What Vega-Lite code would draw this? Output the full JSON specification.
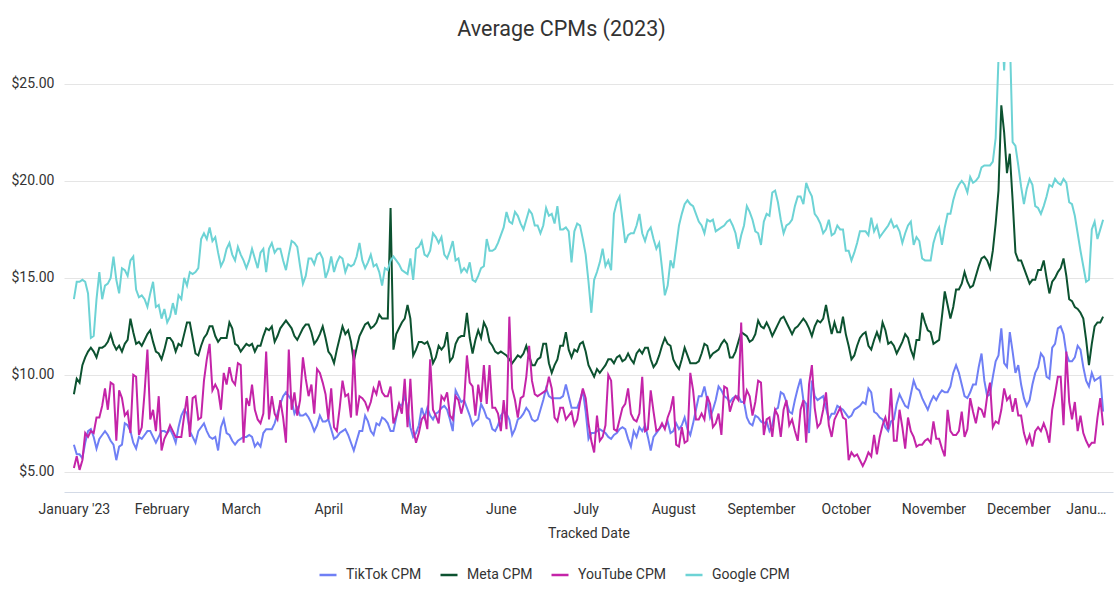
{
"$schema":"https://vega.github.io/schema/vega-lite/v6.json",
"width":1049,"height":430,
"autosize":{"type":"none"},
"padding":{"left":64,"top":62,"right":7,"bottom":113},
"background":"white",
"config":{"font":"Roboto","view":{"stroke":null}},
"title":{"text":"Average CPMs (2023)","fontSize":21.5,"font":"Roboto","fontWeight":"normal","color":"#333333","anchor":"middle","dx":-27,"offset":22},
"data":{"values":[
{"d":"2023-01-01","t":6.4,"m":9.0,"y":5.2,"g":13.9},
{"d":"2023-01-02","t":5.9,"m":9.8,"y":5.8,"g":14.8},
{"d":"2023-01-03","t":5.9,"m":9.6,"y":5.1,"g":14.8},
{"d":"2023-01-04","t":5.7,"m":10.5,"y":5.6,"g":14.9},
{"d":"2023-01-05","t":6.5,"m":10.9,"y":7.0,"g":14.8},
{"d":"2023-01-06","t":7.1,"m":11.2,"y":6.8,"g":14.2},
{"d":"2023-01-07","t":7.2,"m":11.4,"y":7.1,"g":11.9},
{"d":"2023-01-08","t":6.8,"m":11.2,"y":7.0,"g":12.0},
{"d":"2023-01-09","t":6.2,"m":10.9,"y":7.8,"g":13.9},
{"d":"2023-01-10","t":6.7,"m":11.4,"y":7.8,"g":15.3},
{"d":"2023-01-11","t":6.9,"m":11.4,"y":8.4,"g":13.9},
{"d":"2023-01-12","t":7.1,"m":11.5,"y":9.3,"g":14.6},
{"d":"2023-01-13","t":6.9,"m":11.7,"y":8.2,"g":14.7},
{"d":"2023-01-14","t":6.6,"m":12.1,"y":9.6,"g":15.0},
{"d":"2023-01-15","t":6.4,"m":11.6,"y":9.5,"g":16.1},
{"d":"2023-01-16","t":5.6,"m":11.3,"y":6.6,"g":14.9},
{"d":"2023-01-17","t":6.3,"m":11.5,"y":9.2,"g":14.2},
{"d":"2023-01-18","t":6.4,"m":11.2,"y":8.8,"g":15.5},
{"d":"2023-01-19","t":7.5,"m":11.6,"y":7.9,"g":15.4},
{"d":"2023-01-20","t":7.4,"m":11.8,"y":8.1,"g":15.1},
{"d":"2023-01-21","t":7.1,"m":12.9,"y":7.0,"g":15.9},
{"d":"2023-01-22","t":6.5,"m":12.2,"y":10.0,"g":16.1},
{"d":"2023-01-23","t":6.2,"m":11.6,"y":9.9,"g":14.4},
{"d":"2023-01-24","t":6.8,"m":11.7,"y":6.9,"g":14.0},
{"d":"2023-01-25","t":6.7,"m":11.5,"y":7.3,"g":14.1},
{"d":"2023-01-26","t":6.9,"m":11.8,"y":9.1,"g":13.9},
{"d":"2023-01-27","t":7.1,"m":12.1,"y":11.3,"g":13.5},
{"d":"2023-01-28","t":7.1,"m":12.3,"y":7.7,"g":14.2},
{"d":"2023-01-29","t":6.8,"m":11.7,"y":8.2,"g":14.8},
{"d":"2023-01-30","t":6.5,"m":11.2,"y":7.1,"g":13.5},
{"d":"2023-01-31","t":6.8,"m":11.1,"y":8.9,"g":13.6},
{"d":"2023-02-01","t":7.1,"m":10.8,"y":6.1,"g":12.9},
{"d":"2023-02-02","t":7.1,"m":11.3,"y":6.7,"g":13.4},
{"d":"2023-02-03","t":7.0,"m":11.9,"y":7.0,"g":12.7},
{"d":"2023-02-04","t":7.2,"m":11.9,"y":7.4,"g":13.0},
{"d":"2023-02-05","t":6.9,"m":11.7,"y":7.1,"g":13.7},
{"d":"2023-02-06","t":6.5,"m":11.2,"y":6.8,"g":13.1},
{"d":"2023-02-07","t":7.3,"m":11.6,"y":6.8,"g":14.1},
{"d":"2023-02-08","t":7.9,"m":11.5,"y":6.8,"g":13.9},
{"d":"2023-02-09","t":8.2,"m":12.1,"y":7.9,"g":15.0},
{"d":"2023-02-10","t":8.0,"m":12.7,"y":8.9,"g":14.6},
{"d":"2023-02-11","t":7.1,"m":12.7,"y":6.8,"g":15.3},
{"d":"2023-02-12","t":6.8,"m":11.9,"y":8.8,"g":15.2},
{"d":"2023-02-13","t":6.5,"m":11.1,"y":8.9,"g":15.3},
{"d":"2023-02-14","t":7.1,"m":11.0,"y":7.7,"g":15.5},
{"d":"2023-02-15","t":7.3,"m":11.5,"y":7.8,"g":17.0},
{"d":"2023-02-16","t":7.5,"m":11.9,"y":9.7,"g":17.3},
{"d":"2023-02-17","t":7.1,"m":12.1,"y":10.8,"g":17.0},
{"d":"2023-02-18","t":6.8,"m":12.5,"y":11.6,"g":17.6},
{"d":"2023-02-19","t":6.7,"m":12.5,"y":9.2,"g":16.9},
{"d":"2023-02-20","t":6.8,"m":12.0,"y":9.5,"g":17.1},
{"d":"2023-02-21","t":6.1,"m":11.7,"y":9.2,"g":16.3},
{"d":"2023-02-22","t":7.3,"m":11.9,"y":8.2,"g":15.6},
{"d":"2023-02-23","t":7.7,"m":11.9,"y":10.1,"g":15.9},
{"d":"2023-02-24","t":7.0,"m":11.9,"y":9.5,"g":16.5},
{"d":"2023-02-25","t":6.9,"m":12.7,"y":10.4,"g":16.8},
{"d":"2023-02-26","t":6.6,"m":12.4,"y":9.7,"g":16.2},
{"d":"2023-02-27","t":6.4,"m":11.6,"y":9.5,"g":15.9},
{"d":"2023-02-28","t":6.6,"m":11.5,"y":10.6,"g":16.6},
{"d":"2023-03-01","t":6.7,"m":11.2,"y":10.5,"g":16.2},
{"d":"2023-03-02","t":6.8,"m":11.4,"y":6.5,"g":15.9},
{"d":"2023-03-03","t":6.8,"m":11.6,"y":8.8,"g":15.5},
{"d":"2023-03-04","t":6.9,"m":11.5,"y":8.4,"g":15.9},
{"d":"2023-03-05","t":6.8,"m":11.6,"y":9.5,"g":16.5},
{"d":"2023-03-06","t":6.3,"m":11.2,"y":8.2,"g":16.0},
{"d":"2023-03-07","t":6.5,"m":11.5,"y":7.7,"g":15.5},
{"d":"2023-03-08","t":6.3,"m":11.5,"y":7.5,"g":16.3},
{"d":"2023-03-09","t":7.0,"m":12.0,"y":8.0,"g":16.5},
{"d":"2023-03-10","t":7.2,"m":12.4,"y":11.2,"g":15.3},
{"d":"2023-03-11","t":7.2,"m":12.3,"y":7.7,"g":16.5},
{"d":"2023-03-12","t":7.2,"m":12.5,"y":8.9,"g":16.8},
{"d":"2023-03-13","t":7.5,"m":11.7,"y":8.0,"g":16.3},
{"d":"2023-03-14","t":8.0,"m":12.0,"y":7.7,"g":16.5},
{"d":"2023-03-15","t":8.5,"m":12.4,"y":8.7,"g":16.5},
{"d":"2023-03-16","t":8.9,"m":12.6,"y":7.8,"g":15.9},
{"d":"2023-03-17","t":9.1,"m":12.8,"y":6.5,"g":15.4},
{"d":"2023-03-18","t":8.9,"m":12.6,"y":11.3,"g":16.2},
{"d":"2023-03-19","t":8.7,"m":12.4,"y":8.2,"g":16.9},
{"d":"2023-03-20","t":8.0,"m":12.0,"y":9.1,"g":16.8},
{"d":"2023-03-21","t":8.3,"m":11.8,"y":7.9,"g":16.6},
{"d":"2023-03-22","t":7.9,"m":12.1,"y":8.7,"g":15.6},
{"d":"2023-03-23","t":7.9,"m":12.4,"y":10.9,"g":14.7},
{"d":"2023-03-24","t":8.0,"m":12.6,"y":9.8,"g":15.1},
{"d":"2023-03-25","t":7.8,"m":12.6,"y":8.9,"g":16.0},
{"d":"2023-03-26","t":7.5,"m":12.2,"y":9.5,"g":16.0},
{"d":"2023-03-27","t":7.1,"m":11.6,"y":8.0,"g":15.7},
{"d":"2023-03-28","t":7.4,"m":11.8,"y":10.3,"g":16.2},
{"d":"2023-03-29","t":7.9,"m":12.1,"y":10.1,"g":16.3},
{"d":"2023-03-30","t":7.6,"m":12.5,"y":9.6,"g":16.0},
{"d":"2023-03-31","t":7.6,"m":11.9,"y":9.0,"g":15.0},
{"d":"2023-04-01","t":7.7,"m":11.2,"y":7.7,"g":15.4},
{"d":"2023-04-02","t":7.2,"m":11.0,"y":9.3,"g":16.1},
{"d":"2023-04-03","t":6.7,"m":10.6,"y":7.3,"g":15.3},
{"d":"2023-04-04","t":6.8,"m":11.3,"y":7.1,"g":15.8},
{"d":"2023-04-05","t":7.0,"m":11.9,"y":8.3,"g":16.1},
{"d":"2023-04-06","t":7.1,"m":12.5,"y":9.7,"g":16.0},
{"d":"2023-04-07","t":7.2,"m":12.1,"y":8.9,"g":15.3},
{"d":"2023-04-08","t":6.9,"m":12.3,"y":9.0,"g":15.7},
{"d":"2023-04-09","t":6.5,"m":11.7,"y":7.8,"g":15.6},
{"d":"2023-04-10","t":6.1,"m":10.7,"y":11.3,"g":15.7},
{"d":"2023-04-11","t":6.6,"m":11.4,"y":7.9,"g":16.1},
{"d":"2023-04-12","t":7.1,"m":12.0,"y":8.9,"g":16.8},
{"d":"2023-04-13","t":7.1,"m":12.3,"y":8.8,"g":15.9},
{"d":"2023-04-14","t":7.9,"m":12.6,"y":8.6,"g":15.5},
{"d":"2023-04-15","t":7.6,"m":12.7,"y":8.2,"g":15.8},
{"d":"2023-04-16","t":7.1,"m":12.4,"y":8.6,"g":16.2},
{"d":"2023-04-17","t":6.9,"m":12.5,"y":9.3,"g":15.6},
{"d":"2023-04-18","t":7.5,"m":12.7,"y":9.0,"g":15.7},
{"d":"2023-04-19","t":7.4,"m":13.1,"y":9.7,"g":15.3},
{"d":"2023-04-20","t":7.8,"m":12.9,"y":9.1,"g":14.6},
{"d":"2023-04-21","t":7.7,"m":12.9,"y":8.9,"g":15.5},
{"d":"2023-04-22","t":7.5,"m":12.9,"y":8.9,"g":15.4},
{"d":"2023-04-23","t":7.1,"m":18.6,"y":9.4,"g":15.9},
{"d":"2023-04-24","t":7.1,"m":11.3,"y":7.5,"g":16.1},
{"d":"2023-04-25","t":7.8,"m":12.1,"y":7.9,"g":15.9},
{"d":"2023-04-26","t":8.5,"m":12.4,"y":8.5,"g":15.7},
{"d":"2023-04-27","t":8.4,"m":12.7,"y":8.0,"g":15.4},
{"d":"2023-04-28","t":8.9,"m":12.9,"y":9.8,"g":15.3},
{"d":"2023-04-29","t":8.3,"m":13.6,"y":7.3,"g":15.2},
{"d":"2023-04-30","t":7.3,"m":12.9,"y":9.8,"g":16.0},
{"d":"2023-05-01","t":6.8,"m":11.0,"y":7.2,"g":14.9},
{"d":"2023-05-02","t":7.0,"m":11.3,"y":6.5,"g":16.5},
{"d":"2023-05-03","t":7.4,"m":11.7,"y":7.0,"g":16.6},
{"d":"2023-05-04","t":8.3,"m":11.7,"y":7.7,"g":16.9},
{"d":"2023-05-05","t":7.8,"m":11.6,"y":7.9,"g":16.2},
{"d":"2023-05-06","t":8.3,"m":11.7,"y":7.2,"g":16.1},
{"d":"2023-05-07","t":7.9,"m":11.3,"y":10.8,"g":16.4},
{"d":"2023-05-08","t":7.7,"m":10.6,"y":8.2,"g":17.3},
{"d":"2023-05-09","t":8.0,"m":10.9,"y":7.9,"g":17.1},
{"d":"2023-05-10","t":8.1,"m":11.5,"y":7.5,"g":16.8},
{"d":"2023-05-11","t":8.3,"m":11.3,"y":8.9,"g":17.1},
{"d":"2023-05-12","t":8.4,"m":11.5,"y":8.7,"g":16.2},
{"d":"2023-05-13","t":8.2,"m":12.2,"y":9.1,"g":16.0},
{"d":"2023-05-14","t":7.7,"m":10.7,"y":7.9,"g":16.4},
{"d":"2023-05-15","t":7.1,"m":10.9,"y":7.7,"g":16.9},
{"d":"2023-05-16","t":9.2,"m":11.6,"y":8.9,"g":15.9},
{"d":"2023-05-17","t":8.9,"m":11.9,"y":8.7,"g":16.0},
{"d":"2023-05-18","t":8.6,"m":12.0,"y":8.0,"g":15.3},
{"d":"2023-05-19","t":8.7,"m":12.0,"y":8.6,"g":15.5},
{"d":"2023-05-20","t":8.3,"m":13.2,"y":11.0,"g":15.3},
{"d":"2023-05-21","t":7.9,"m":11.9,"y":9.6,"g":15.8},
{"d":"2023-05-22","t":7.4,"m":11.1,"y":9.4,"g":14.9},
{"d":"2023-05-23","t":7.6,"m":11.8,"y":7.9,"g":14.8},
{"d":"2023-05-24","t":7.7,"m":12.3,"y":9.5,"g":15.1},
{"d":"2023-05-25","t":8.5,"m":11.9,"y":8.6,"g":15.5},
{"d":"2023-05-26","t":8.2,"m":12.7,"y":10.5,"g":15.6},
{"d":"2023-05-27","t":7.8,"m":12.4,"y":8.5,"g":17.0},
{"d":"2023-05-28","t":7.7,"m":11.7,"y":10.5,"g":16.4},
{"d":"2023-05-29","t":7.2,"m":11.5,"y":8.3,"g":16.4},
{"d":"2023-05-30","t":7.1,"m":11.2,"y":8.3,"g":16.5},
{"d":"2023-05-31","t":7.4,"m":11.1,"y":8.0,"g":16.8},
{"d":"2023-06-01","t":7.9,"m":11.2,"y":7.1,"g":17.2},
{"d":"2023-06-02","t":8.1,"m":11.1,"y":8.7,"g":17.6},
{"d":"2023-06-03","t":8.0,"m":11.0,"y":7.2,"g":18.4},
{"d":"2023-06-04","t":7.7,"m":10.8,"y":13.0,"g":17.9},
{"d":"2023-06-05","t":6.9,"m":10.6,"y":9.3,"g":17.8},
{"d":"2023-06-06","t":7.2,"m":10.8,"y":8.7,"g":18.4},
{"d":"2023-06-07","t":7.7,"m":11.0,"y":7.8,"g":18.2},
{"d":"2023-06-08","t":7.8,"m":10.9,"y":8.8,"g":17.8},
{"d":"2023-06-09","t":8.0,"m":11.1,"y":8.9,"g":17.5},
{"d":"2023-06-10","t":8.3,"m":11.5,"y":9.9,"g":18.0},
{"d":"2023-06-11","t":8.1,"m":11.0,"y":11.5,"g":18.5},
{"d":"2023-06-12","t":7.7,"m":10.5,"y":9.7,"g":18.3},
{"d":"2023-06-13","t":7.6,"m":10.5,"y":9.0,"g":17.7},
{"d":"2023-06-14","t":7.7,"m":10.8,"y":8.9,"g":17.7},
{"d":"2023-06-15","t":8.2,"m":10.9,"y":9.0,"g":17.3},
{"d":"2023-06-16","t":8.7,"m":11.6,"y":9.1,"g":17.7},
{"d":"2023-06-17","t":9.3,"m":11.6,"y":9.2,"g":18.6},
{"d":"2023-06-18","t":8.9,"m":10.6,"y":9.9,"g":18.2},
{"d":"2023-06-19","t":8.8,"m":10.1,"y":9.3,"g":18.3},
{"d":"2023-06-20","t":8.8,"m":10.5,"y":7.8,"g":17.8},
{"d":"2023-06-21","t":8.8,"m":10.8,"y":7.6,"g":18.7},
{"d":"2023-06-22","t":8.8,"m":11.5,"y":8.3,"g":17.5},
{"d":"2023-06-23","t":8.9,"m":11.5,"y":8.3,"g":17.5},
{"d":"2023-06-24","t":9.5,"m":12.2,"y":7.7,"g":17.6},
{"d":"2023-06-25","t":8.9,"m":11.3,"y":7.9,"g":17.4},
{"d":"2023-06-26","t":8.3,"m":10.9,"y":8.1,"g":15.8},
{"d":"2023-06-27","t":8.3,"m":11.3,"y":7.4,"g":17.4},
{"d":"2023-06-28","t":8.3,"m":11.2,"y":7.7,"g":17.8},
{"d":"2023-06-29","t":8.7,"m":11.6,"y":8.6,"g":17.7},
{"d":"2023-06-30","t":9.2,"m":11.7,"y":9.3,"g":17.0},
{"d":"2023-07-01","t":8.1,"m":11.2,"y":8.8,"g":16.2},
{"d":"2023-07-02","t":6.7,"m":10.5,"y":7.5,"g":14.8},
{"d":"2023-07-03","t":7.0,"m":10.2,"y":6.6,"g":13.2},
{"d":"2023-07-04","t":7.0,"m":9.9,"y":6.0,"g":14.9},
{"d":"2023-07-05","t":7.1,"m":10.3,"y":7.9,"g":15.3},
{"d":"2023-07-06","t":7.2,"m":10.1,"y":6.6,"g":15.8},
{"d":"2023-07-07","t":7.1,"m":10.3,"y":6.8,"g":16.5},
{"d":"2023-07-08","t":7.0,"m":10.5,"y":7.4,"g":15.6},
{"d":"2023-07-09","t":6.8,"m":10.8,"y":10.0,"g":15.9},
{"d":"2023-07-10","t":6.7,"m":10.8,"y":9.7,"g":15.4},
{"d":"2023-07-11","t":6.9,"m":10.6,"y":7.2,"g":18.3},
{"d":"2023-07-12","t":7.0,"m":10.9,"y":7.1,"g":18.9},
{"d":"2023-07-13","t":7.2,"m":11.0,"y":7.7,"g":19.2},
{"d":"2023-07-14","t":7.3,"m":10.7,"y":8.3,"g":18.0},
{"d":"2023-07-15","t":7.2,"m":10.8,"y":8.5,"g":16.8},
{"d":"2023-07-16","t":6.7,"m":11.1,"y":9.3,"g":17.2},
{"d":"2023-07-17","t":6.3,"m":10.8,"y":8.0,"g":17.3},
{"d":"2023-07-18","t":7.1,"m":10.6,"y":7.7,"g":17.3},
{"d":"2023-07-19","t":6.8,"m":11.1,"y":7.6,"g":17.7},
{"d":"2023-07-20","t":7.3,"m":11.3,"y":8.0,"g":18.3},
{"d":"2023-07-21","t":7.1,"m":11.1,"y":9.9,"g":17.3},
{"d":"2023-07-22","t":7.4,"m":11.4,"y":7.1,"g":16.9},
{"d":"2023-07-23","t":6.8,"m":11.4,"y":7.2,"g":17.4},
{"d":"2023-07-24","t":6.1,"m":10.8,"y":9.2,"g":17.6},
{"d":"2023-07-25","t":6.8,"m":10.4,"y":8.1,"g":17.0},
{"d":"2023-07-26","t":7.0,"m":10.6,"y":7.1,"g":16.5},
{"d":"2023-07-27","t":7.2,"m":11.0,"y":7.2,"g":16.8},
{"d":"2023-07-28","t":7.4,"m":11.5,"y":7.5,"g":15.5},
{"d":"2023-07-29","t":7.3,"m":11.9,"y":7.2,"g":14.1},
{"d":"2023-07-30","t":7.6,"m":11.6,"y":7.8,"g":14.6},
{"d":"2023-07-31","t":7.0,"m":11.5,"y":8.2,"g":15.9},
{"d":"2023-08-01","t":7.1,"m":10.8,"y":8.9,"g":15.5},
{"d":"2023-08-02","t":7.5,"m":10.5,"y":6.4,"g":16.6},
{"d":"2023-08-03","t":7.2,"m":10.3,"y":6.3,"g":17.7},
{"d":"2023-08-04","t":7.4,"m":10.8,"y":7.3,"g":18.3},
{"d":"2023-08-05","t":7.8,"m":11.4,"y":6.5,"g":18.8},
{"d":"2023-08-06","t":7.2,"m":11.0,"y":6.6,"g":19.0},
{"d":"2023-08-07","t":6.9,"m":10.6,"y":10.1,"g":18.8},
{"d":"2023-08-08","t":7.5,"m":10.6,"y":9.2,"g":18.7},
{"d":"2023-08-09","t":8.2,"m":10.6,"y":7.7,"g":18.3},
{"d":"2023-08-10","t":8.9,"m":10.7,"y":7.7,"g":17.9},
{"d":"2023-08-11","t":8.9,"m":11.1,"y":8.0,"g":17.7},
{"d":"2023-08-12","t":9.4,"m":11.6,"y":7.7,"g":17.3},
{"d":"2023-08-13","t":8.7,"m":11.5,"y":8.9,"g":18.0},
{"d":"2023-08-14","t":7.8,"m":10.9,"y":8.5,"g":17.9},
{"d":"2023-08-15","t":8.2,"m":11.1,"y":7.3,"g":18.0},
{"d":"2023-08-16","t":8.7,"m":11.2,"y":7.5,"g":17.4},
{"d":"2023-08-17","t":9.4,"m":11.3,"y":8.0,"g":17.5},
{"d":"2023-08-18","t":9.2,"m":11.6,"y":6.9,"g":17.6},
{"d":"2023-08-19","t":8.9,"m":11.8,"y":9.4,"g":17.7},
{"d":"2023-08-20","t":8.8,"m":11.6,"y":9.3,"g":17.9},
{"d":"2023-08-21","t":8.6,"m":10.9,"y":8.1,"g":18.0},
{"d":"2023-08-22","t":8.8,"m":10.9,"y":8.6,"g":17.7},
{"d":"2023-08-23","t":8.9,"m":11.2,"y":8.9,"g":17.3},
{"d":"2023-08-24","t":8.9,"m":11.7,"y":8.7,"g":16.5},
{"d":"2023-08-25","t":8.6,"m":12.2,"y":12.7,"g":17.2},
{"d":"2023-08-26","t":8.6,"m":12.1,"y":8.5,"g":17.7},
{"d":"2023-08-27","t":7.8,"m":12.0,"y":9.2,"g":18.7},
{"d":"2023-08-28","t":7.5,"m":11.7,"y":8.9,"g":18.4},
{"d":"2023-08-29","t":7.4,"m":11.8,"y":7.9,"g":18.0},
{"d":"2023-08-30","t":7.9,"m":12.1,"y":8.6,"g":17.4},
{"d":"2023-08-31","t":7.8,"m":12.8,"y":9.7,"g":17.3},
{"d":"2023-09-01","t":7.6,"m":12.5,"y":9.6,"g":16.7},
{"d":"2023-09-02","t":7.5,"m":12.4,"y":6.9,"g":17.9},
{"d":"2023-09-03","t":7.6,"m":12.7,"y":7.7,"g":18.3},
{"d":"2023-09-04","t":7.1,"m":12.4,"y":7.8,"g":18.2},
{"d":"2023-09-05","t":7.4,"m":12.0,"y":6.8,"g":19.4},
{"d":"2023-09-06","t":8.2,"m":12.3,"y":8.2,"g":19.5},
{"d":"2023-09-07","t":8.3,"m":12.6,"y":7.9,"g":18.9},
{"d":"2023-09-08","t":9.1,"m":12.9,"y":6.8,"g":18.0},
{"d":"2023-09-09","t":9.0,"m":13.0,"y":8.2,"g":17.3},
{"d":"2023-09-10","t":8.6,"m":12.7,"y":8.7,"g":17.7},
{"d":"2023-09-11","t":8.1,"m":12.4,"y":7.4,"g":17.8},
{"d":"2023-09-12","t":8.0,"m":12.1,"y":7.7,"g":18.0},
{"d":"2023-09-13","t":8.7,"m":12.4,"y":7.1,"g":18.7},
{"d":"2023-09-14","t":9.3,"m":12.5,"y":6.6,"g":19.2},
{"d":"2023-09-15","t":9.8,"m":12.7,"y":8.2,"g":19.2},
{"d":"2023-09-16","t":8.7,"m":12.9,"y":8.7,"g":18.8},
{"d":"2023-09-17","t":8.5,"m":12.7,"y":6.5,"g":19.9},
{"d":"2023-09-18","t":7.0,"m":12.4,"y":9.5,"g":19.5},
{"d":"2023-09-19","t":9.7,"m":12.0,"y":10.5,"g":19.2},
{"d":"2023-09-20","t":8.9,"m":12.5,"y":8.3,"g":18.3},
{"d":"2023-09-21","t":8.7,"m":12.8,"y":7.3,"g":18.1},
{"d":"2023-09-22","t":8.8,"m":12.7,"y":7.5,"g":17.8},
{"d":"2023-09-23","t":8.9,"m":12.9,"y":8.2,"g":17.3},
{"d":"2023-09-24","t":8.3,"m":13.6,"y":9.1,"g":17.5},
{"d":"2023-09-25","t":7.7,"m":12.8,"y":7.4,"g":18.0},
{"d":"2023-09-26","t":8.0,"m":12.1,"y":6.8,"g":17.2},
{"d":"2023-09-27","t":8.0,"m":12.7,"y":7.7,"g":17.3},
{"d":"2023-09-28","t":8.4,"m":12.2,"y":8.0,"g":17.7},
{"d":"2023-09-29","t":8.3,"m":12.2,"y":8.3,"g":17.5},
{"d":"2023-09-30","t":8.2,"m":13.0,"y":7.8,"g":17.5},
{"d":"2023-10-01","t":8.0,"m":12.1,"y":7.7,"g":16.4},
{"d":"2023-10-02","t":7.8,"m":11.5,"y":5.6,"g":16.4},
{"d":"2023-10-03","t":7.9,"m":10.8,"y":6.0,"g":15.9},
{"d":"2023-10-04","t":8.2,"m":11.0,"y":5.8,"g":16.3},
{"d":"2023-10-05","t":8.3,"m":11.5,"y":5.9,"g":16.8},
{"d":"2023-10-06","t":8.4,"m":11.9,"y":5.6,"g":17.4},
{"d":"2023-10-07","t":8.6,"m":12.1,"y":5.3,"g":17.4},
{"d":"2023-10-08","t":8.5,"m":12.2,"y":5.6,"g":17.4},
{"d":"2023-10-09","t":9.3,"m":11.5,"y":6.0,"g":17.2},
{"d":"2023-10-10","t":9.1,"m":11.3,"y":5.8,"g":18.1},
{"d":"2023-10-11","t":8.1,"m":11.8,"y":6.9,"g":17.4},
{"d":"2023-10-12","t":8.0,"m":12.2,"y":5.9,"g":17.7},
{"d":"2023-10-13","t":7.8,"m":11.8,"y":6.8,"g":17.1},
{"d":"2023-10-14","t":7.7,"m":12.7,"y":7.4,"g":17.3},
{"d":"2023-10-15","t":7.3,"m":12.3,"y":7.8,"g":17.5},
{"d":"2023-10-16","t":7.1,"m":11.6,"y":7.2,"g":17.7},
{"d":"2023-10-17","t":7.6,"m":11.7,"y":9.3,"g":18.0},
{"d":"2023-10-18","t":7.7,"m":11.5,"y":6.6,"g":17.6},
{"d":"2023-10-19","t":8.5,"m":11.1,"y":6.6,"g":17.7},
{"d":"2023-10-20","t":9.0,"m":11.4,"y":8.2,"g":17.4},
{"d":"2023-10-21","t":8.7,"m":11.7,"y":7.3,"g":16.8},
{"d":"2023-10-22","t":8.4,"m":12.1,"y":6.2,"g":17.3},
{"d":"2023-10-23","t":8.3,"m":11.9,"y":7.8,"g":17.7},
{"d":"2023-10-24","t":9.0,"m":11.3,"y":7.1,"g":17.9},
{"d":"2023-10-25","t":9.7,"m":10.9,"y":6.8,"g":16.7},
{"d":"2023-10-26","t":9.3,"m":11.8,"y":6.3,"g":17.1},
{"d":"2023-10-27","t":9.2,"m":11.8,"y":6.4,"g":16.9},
{"d":"2023-10-28","t":8.8,"m":13.2,"y":6.4,"g":16.0},
{"d":"2023-10-29","t":8.5,"m":12.7,"y":6.6,"g":15.9},
{"d":"2023-10-30","t":8.2,"m":12.3,"y":6.7,"g":15.9},
{"d":"2023-10-31","t":8.6,"m":12.2,"y":6.5,"g":15.9},
{"d":"2023-11-01","t":8.9,"m":11.6,"y":7.6,"g":16.8},
{"d":"2023-11-02","t":8.7,"m":11.7,"y":6.7,"g":17.3},
{"d":"2023-11-03","t":9.0,"m":11.8,"y":6.7,"g":17.6},
{"d":"2023-11-04","t":9.2,"m":13.0,"y":6.2,"g":16.7},
{"d":"2023-11-05","t":9.1,"m":14.3,"y":5.8,"g":17.6},
{"d":"2023-11-06","t":9.1,"m":13.6,"y":8.2,"g":18.3},
{"d":"2023-11-07","t":9.4,"m":12.9,"y":7.1,"g":18.3},
{"d":"2023-11-08","t":10.1,"m":13.5,"y":6.9,"g":19.0},
{"d":"2023-11-09","t":10.5,"m":14.4,"y":6.9,"g":19.5},
{"d":"2023-11-10","t":10.1,"m":14.4,"y":7.1,"g":19.8},
{"d":"2023-11-11","t":9.5,"m":14.7,"y":8.1,"g":20.0},
{"d":"2023-11-12","t":8.9,"m":15.3,"y":6.8,"g":19.8},
{"d":"2023-11-13","t":8.8,"m":14.8,"y":7.2,"g":19.4},
{"d":"2023-11-14","t":9.1,"m":14.5,"y":8.8,"g":20.2},
{"d":"2023-11-15","t":9.5,"m":14.6,"y":8.1,"g":19.9},
{"d":"2023-11-16","t":9.5,"m":15.1,"y":7.5,"g":20.0},
{"d":"2023-11-17","t":10.4,"m":15.6,"y":8.3,"g":20.2},
{"d":"2023-11-18","t":11.1,"m":16.0,"y":8.2,"g":20.7},
{"d":"2023-11-19","t":9.7,"m":16.1,"y":7.8,"g":20.8},
{"d":"2023-11-20","t":8.9,"m":15.9,"y":8.9,"g":20.8},
{"d":"2023-11-21","t":9.0,"m":15.5,"y":9.6,"g":20.8},
{"d":"2023-11-22","t":9.9,"m":16.4,"y":7.3,"g":21.0},
{"d":"2023-11-23","t":10.7,"m":17.8,"y":7.6,"g":22.2},
{"d":"2023-11-24","t":11.0,"m":19.5,"y":7.5,"g":26.3},
{"d":"2023-11-25","t":12.4,"m":23.9,"y":8.2,"g":28.5},
{"d":"2023-11-26","t":10.6,"m":22.5,"y":9.3,"g":25.7},
{"d":"2023-11-27","t":10.4,"m":20.4,"y":8.7,"g":29.0},
{"d":"2023-11-28","t":12.2,"m":21.4,"y":8.9,"g":27.5},
{"d":"2023-11-29","t":11.2,"m":19.0,"y":8.1,"g":22.0},
{"d":"2023-11-30","t":10.1,"m":16.3,"y":8.8,"g":21.8},
{"d":"2023-12-01","t":10.5,"m":15.9,"y":7.9,"g":20.8},
{"d":"2023-12-02","t":9.5,"m":15.9,"y":7.9,"g":19.7},
{"d":"2023-12-03","t":8.8,"m":15.5,"y":7.0,"g":18.8},
{"d":"2023-12-04","t":8.4,"m":15.1,"y":6.5,"g":19.6},
{"d":"2023-12-05","t":8.7,"m":14.7,"y":6.9,"g":20.1},
{"d":"2023-12-06","t":9.5,"m":14.9,"y":6.3,"g":19.8},
{"d":"2023-12-07","t":10.1,"m":14.9,"y":7.1,"g":18.7},
{"d":"2023-12-08","t":10.4,"m":15.4,"y":7.3,"g":18.6},
{"d":"2023-12-09","t":11.1,"m":15.4,"y":7.1,"g":18.3},
{"d":"2023-12-10","t":10.9,"m":15.9,"y":7.5,"g":18.7},
{"d":"2023-12-11","t":9.9,"m":15.0,"y":7.1,"g":19.2},
{"d":"2023-12-12","t":9.8,"m":14.2,"y":6.5,"g":19.8},
{"d":"2023-12-13","t":11.4,"m":14.8,"y":8.2,"g":19.7},
{"d":"2023-12-14","t":11.6,"m":15.0,"y":9.0,"g":20.1},
{"d":"2023-12-15","t":12.4,"m":15.3,"y":9.9,"g":19.9},
{"d":"2023-12-16","t":12.5,"m":15.5,"y":9.9,"g":19.8},
{"d":"2023-12-17","t":12.1,"m":16.0,"y":7.4,"g":20.1},
{"d":"2023-12-18","t":11.1,"m":15.1,"y":11.2,"g":19.9},
{"d":"2023-12-19","t":10.7,"m":13.9,"y":8.6,"g":18.9},
{"d":"2023-12-20","t":10.7,"m":13.8,"y":7.7,"g":18.8},
{"d":"2023-12-21","t":10.9,"m":13.5,"y":8.6,"g":18.2},
{"d":"2023-12-22","t":11.5,"m":13.4,"y":7.1,"g":17.3},
{"d":"2023-12-23","t":11.3,"m":13.2,"y":7.9,"g":16.4},
{"d":"2023-12-24","t":10.4,"m":12.9,"y":7.0,"g":15.6},
{"d":"2023-12-25","t":9.7,"m":11.8,"y":6.6,"g":14.8},
{"d":"2023-12-26","t":9.4,"m":10.5,"y":6.3,"g":14.9},
{"d":"2023-12-27","t":10.1,"m":11.6,"y":6.5,"g":17.5},
{"d":"2023-12-28","t":9.7,"m":12.5,"y":6.5,"g":17.9},
{"d":"2023-12-29","t":9.8,"m":12.7,"y":7.8,"g":17.0},
{"d":"2023-12-30","t":9.9,"m":12.7,"y":8.8,"g":17.5},
{"d":"2023-12-31","t":8.1,"m":13.0,"y":7.4,"g":18.0}
]},
"transform":[{"fold":["t","m","y","g"],"as":["series","cpm"]}],
"mark":{"type":"line","strokeWidth":2,"clip":true},
"encoding":{
"x":{"field":"d","type":"temporal","title":"Tracked Date",
"scale":{"type":"utc","domain":[{"year":2022,"month":12,"date":28,"hours":12,"utc":true},{"year":2024,"month":1,"date":3,"hours":12,"utc":true}]},
"axis":{"tickCount":{"interval":"month","step":1},"ticks":false,"grid":false,"labelFlush":false,"labelOverlap":false,
"labelExpr":"utcmonth(datum.value) == 0 ? (utcyear(datum.value) == 2023 ? \"January '23\" : 'Janu…') : utcFormat(datum.value, '%B')",
"labelAlign":{"condition":{"test":"utcyear(datum.value) >= 2024","value":"right"},"value":"center"},
"labelFont":"Roboto","labelFontSize":14,"labelColor":"#333333","labelPadding":10,
"titleFont":"Roboto","titleFontSize":14,"titleFontWeight":"normal","titleColor":"#333333","titlePadding":10,
"domainColor":"#d3dae6","domainWidth":1}},
"y":{"field":"cpm","type":"quantitative","title":null,
"scale":{"domain":[3.96,26.13],"nice":false,"zero":false},
"axis":{"values":[5,10,15,20,25],"format":"$.2f","domain":false,"ticks":false,"gridColor":"#e5e5e5","gridWidth":1,
"labelFont":"Roboto","labelFontSize":14,"labelColor":"#333333","labelPadding":10}},
"color":{"field":"series","type":"nominal",
"scale":{"domain":["t","m","y","g"],"range":["#6f7ff5","#0c5230","#c424a8","#6dd3d5"]},
"legend":{"orient":"none","legendX":254,"legendY":503,"direction":"horizontal","title":null,
"labelExpr":"datum.label == 't' ? 'TikTok CPM' : datum.label == 'm' ? 'Meta CPM' : datum.label == 'y' ? 'YouTube CPM' : 'Google CPM'",
"symbolType":"stroke","symbolStrokeWidth":2.5,"symbolSize":289,"labelOffset":8,"columnPadding":13,"padding":0,
"labelFont":"Roboto","labelFontSize":14,"labelColor":"#333333"}}
}
}
